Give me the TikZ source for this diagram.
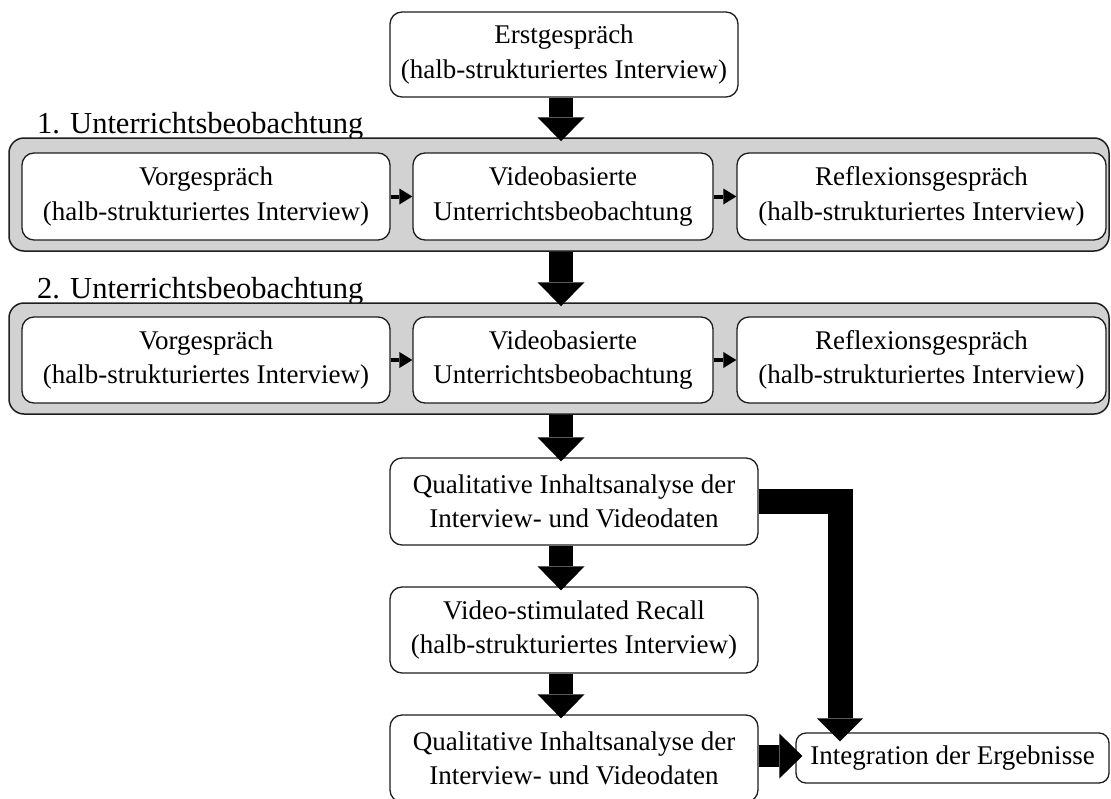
\documentclass[tikz,border=0pt]{standalone}
\usepackage{fontspec}
\setmainfont{Liberation Serif}
\usetikzlibrary{arrows.meta}
\definecolor{panelgray}{RGB}{210,210,210}
\definecolor{edge}{RGB}{30,30,30}
\tikzset{
  boxtext/.style={font={\fontsize{27}{34.5}\selectfont}},
  flowbox/.style={draw=edge, line width=1.3pt, fill=white, rounded corners=12pt, inner sep=0pt, align=center, boxtext},
  panelbox/.style={draw=edge, line width=1.5pt, fill=panelgray, rounded corners=15pt, inner sep=0pt},
  paneltitle/.style={font={\fontsize{30.5}{36}\selectfont}, anchor=base west, inner sep=0pt},
  bigarrow/.style={line width=24pt, -{Triangle[width=47pt,length=24pt,line width=0pt]}, shorten >=-4pt},
  smallarrow/.style={line width=4pt, -{Triangle[width=16pt,length=13pt,line width=0pt]}},
}
\begin{document}
\begin{tikzpicture}[x=1pt,y=-1pt]
\clip (0,0) rectangle (1111,798);
\fill[white] (0,0) rectangle (1111,798);

% top box
\node[flowbox, minimum width=348pt, minimum height=85pt] (E) at (564,54.5) {Erstgespräch\\(halb-strukturiertes Interview)};

% panel 1
\node[paneltitle] (L1) at (37,133) {1. Unterrichtsbeobachtung};
\node[panelbox, minimum width=1100pt, minimum height=113pt] (P1) at (559,194.5) {};
\node[flowbox, minimum width=368pt, minimum height=87pt] (A1) at (206,196.5) {Vorgespräch\\(halb-strukturiertes Interview)};
\node[flowbox, minimum width=300pt, minimum height=87pt] (B1) at (563,196.5) {Videobasierte\\Unterrichtsbeobachtung};
\node[flowbox, minimum width=369pt, minimum height=87pt] (C1) at (921.5,196.5) {Reflexionsgespräch\\(halb-strukturiertes Interview)};

% panel 2
\node[paneltitle] (L2) at (37,298) {2. Unterrichtsbeobachtung};
\node[panelbox, minimum width=1100pt, minimum height=111pt] (P2) at (559,358.5) {};
\node[flowbox, minimum width=368pt, minimum height=86pt] (A2) at (206,360) {Vorgespräch\\(halb-strukturiertes Interview)};
\node[flowbox, minimum width=300pt, minimum height=86pt] (B2) at (563,360) {Videobasierte\\Unterrichtsbeobachtung};
\node[flowbox, minimum width=369pt, minimum height=86pt] (C2) at (921.5,360) {Reflexionsgespräch\\(halb-strukturiertes Interview)};

% lower chain
\node[flowbox, minimum width=368pt, minimum height=87pt] (Q1) at (574,501.5) {Qualitative Inhaltsanalyse der\\Interview- und Videodaten};
\node[flowbox, minimum width=368pt, minimum height=86pt] (R) at (574,630) {Video-stimulated Recall\\(halb-strukturiertes Interview)};
\node[flowbox, minimum width=368pt, minimum height=87pt] (Q2) at (574,758.5) {Qualitative Inhaltsanalyse der\\Interview- und Videodaten};
\node[flowbox, rounded corners=10pt, minimum width=313pt, minimum height=50pt] (I) at (952.5,758) {Integration der Ergebnisse};

% coordinates for arrow axes
\coordinate (ax) at (561,0);
\coordinate (ex) at (840,0);
\coordinate (hy) at (0,756);

% small arrows inside panels
\draw[smallarrow] (A1.east) -- (B1.west);
\draw[smallarrow] (B1.east) -- (C1.west);
\draw[smallarrow] (A2.east) -- (B2.west);
\draw[smallarrow] (B2.east) -- (C2.west);

% thick vertical arrows
\draw[bigarrow] (E.south -| ax) -- (P1.north -| ax);
\draw[bigarrow] (P1.south -| ax) -- (P2.north -| ax);
\draw[bigarrow] (P2.south -| ax) -- (Q1.north -| ax);
\draw[bigarrow] (Q1.south -| ax) -- (R.north -| ax);
\draw[bigarrow] (R.south -| ax) -- (Q2.north -| ax);

% elbow arrow to integration
\draw[line width=25pt, -{Triangle[width=46pt,length=23pt,line width=0pt]}, shorten >=-9pt] (Q1.east) -| (I.north -| ex);

% horizontal arrow to integration
\draw[line width=22pt, -{Triangle[width=45pt,length=23pt,line width=0pt]}, shorten >=-7pt] (Q2.east |- hy) -- (I.west |- hy);
\end{tikzpicture}
\end{document}
